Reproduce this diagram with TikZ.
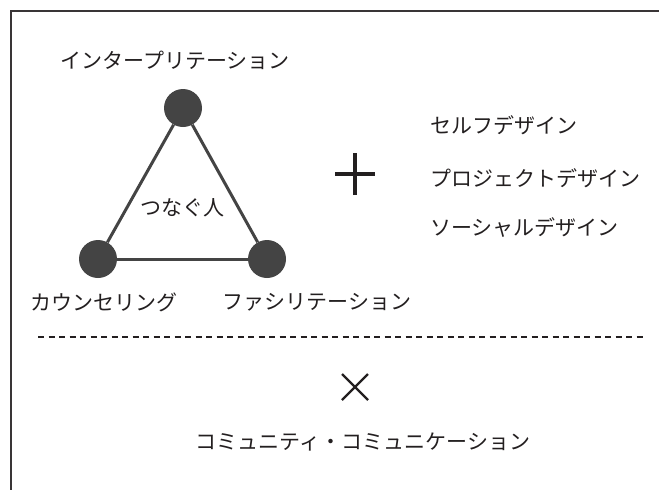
\documentclass[tikz,border=0pt]{standalone}
\usepackage{fontspec}
\setmainfont{Noto Sans CJK JP}
\definecolor{ink}{HTML}{231F20}
\definecolor{dot}{HTML}{444444}
\begin{document}
\begin{tikzpicture}[x=1pt,y=-1pt,
  lbl/.style={font=\fontsize{21}{24}\selectfont, text=ink, inner sep=0pt},
  vtx/.style={circle, fill=dot, minimum size=38pt, inner sep=0pt},
  edge/.style={draw=dot, line width=3pt}]
\useasboundingbox (0,0) rectangle (659,490);
% frame (top and left only visible)
\draw[line width=2pt, color=ink!90] (659,10.5) -- (10.5,10.5) -- (10.5,490);
% triangle
\node[vtx] (t) at (183,108) {};
\node[vtx] (bl) at (98,259) {};
\node[vtx] (br) at (267,259) {};
\draw[edge] (t) -- (bl);
\draw[edge] (bl) -- (br);
\draw[edge] (br) -- (t);
\node[lbl] (center) at (182,208) {つなぐ人};
\node[lbl] (lt) at (175,60) {インタープリテーション};
\node[lbl] (lbl) at (104,302) {カウンセリング};
\node[lbl] (lbr) at (317,302) {ファシリテーション};
% plus
\coordinate (pc) at (355,174);
\draw[ink, line width=3.5pt] ([xshift=-20pt]pc) -- ([xshift=20pt]pc);
\draw[ink, line width=3.5pt] ([yshift=-21pt]pc) -- ([yshift=21pt]pc);
% right list
\node[lbl, anchor=west] (d1) at (430,125) {セルフデザイン};
\node[lbl, anchor=west] (d2) at (430,178) {プロジェクトデザイン};
\node[lbl, anchor=west] (d3) at (430,227) {ソーシャルデザイン};
% dotted line
\coordinate (da) at (38,337);
\coordinate (db) at (646,337);
\draw[ink, line width=2.6pt, dash pattern=on 6pt off 4.5pt] (da) -- (db);
% times
\coordinate (xc) at (355,387);
\draw[ink, line width=2.2pt] ([shift={(-13pt,-13pt)}]xc) -- ([shift={(13pt,13pt)}]xc);
\draw[ink, line width=2.2pt] ([shift={(-13pt,13pt)}]xc) -- ([shift={(13pt,-13pt)}]xc);
\node[lbl] (cc) at (363,442) {コミュニティ・コミュニケーション};
\end{tikzpicture}
\end{document}
